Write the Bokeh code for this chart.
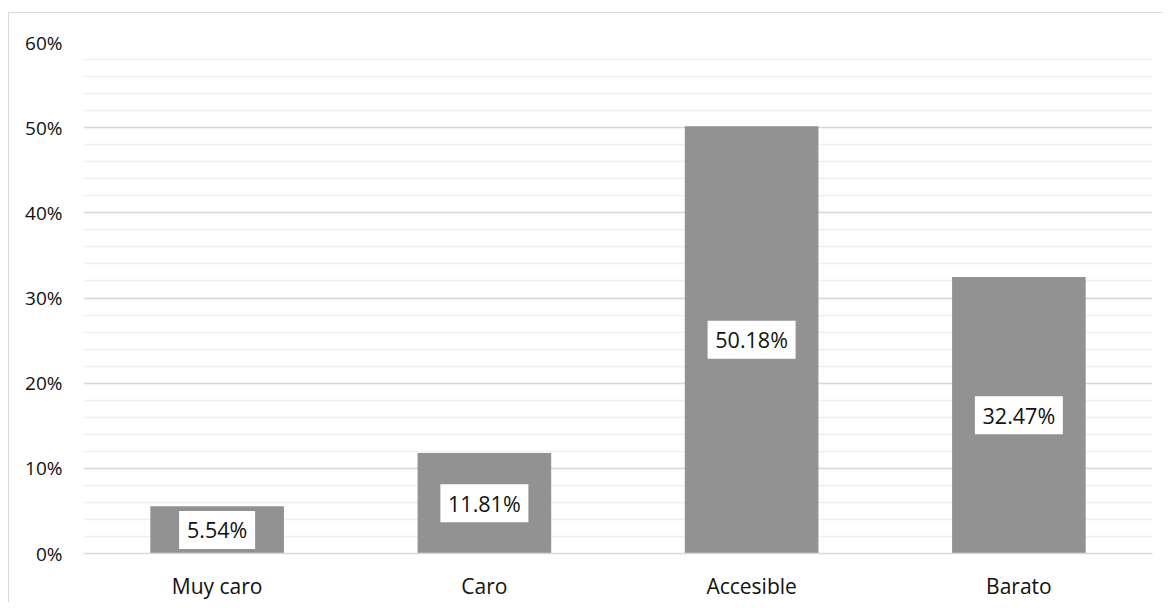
from bokeh.plotting import figure
from bokeh.models import ColumnDataSource, FactorRange, Range1d, SingleIntervalTicker, PrintfTickFormatter
from bokeh.core.properties import value
from bokeh.embed import file_html
from bokeh.resources import INLINE

categories = ["Muy caro", "Caro", "Accesible", "Barato"]
percentages = [5.54, 11.81, 50.18, 32.47]
label_texts = ["5.54%", "11.81%", "50.18%", "32.47%"]

src = ColumnDataSource(dict(
    cat=categories,
    val=percentages,
    mid=[v / 2 for v in percentages],
    lab=label_texts,
    boxw=[12 * len(t) + 16 for t in label_texts],
))

FONT = "Open Sans"

p = figure(
    x_range=FactorRange(factors=categories),
    y_range=Range1d(0, 60),
    width=1153, height=587,
    frame_width=1069, frame_height=511,
    min_border_left=74, min_border_top=29, min_border_right=10, min_border_bottom=47,
    output_backend="svg", toolbar_location=None,
    margin=(12, 0, 0, 8),
)
p.styles = {"border-left": "1px solid #d9d9d9", "border-top": "1px solid #d9d9d9"}
p.outline_line_color = None
p.background_fill_color = "white"
p.border_fill_color = "white"

p.vbar(x="cat", top="val", width=0.5, source=src, fill_color="#929292", line_color=None)

p.rect(x="cat", y="mid", width="boxw", height=38, width_units="screen", height_units="screen",
       source=src, fill_color="white", line_color=None)
p.text(x="cat", y="mid", text="lab", source=src,
       text_font=value(FONT), text_font_size="21.5px", text_color="#111111",
       text_align="center", text_baseline="middle")

ticker = SingleIntervalTicker(interval=10, num_minor_ticks=5)
p.yaxis.ticker = ticker
p.yaxis.formatter = PrintfTickFormatter(format="%d%%")
p.yaxis.axis_line_color = None
p.yaxis.major_tick_line_color = None
p.yaxis.minor_tick_line_color = None
p.yaxis.major_label_standoff = 15
p.yaxis.major_label_text_font = FONT
p.yaxis.major_label_text_font_size = "19px"
p.yaxis.major_label_text_color = "#111111"

p.xaxis.axis_line_color = "#d9d9d9"
p.xaxis.axis_line_width = 1.3
p.xaxis.major_tick_line_color = None
p.xaxis.minor_tick_line_color = None
p.xaxis.major_label_standoff = 12
p.xaxis.major_label_text_font = FONT
p.xaxis.major_label_text_font_size = "21px"
p.xaxis.major_label_text_color = "#111111"

p.xgrid.grid_line_color = None
p.ygrid.ticker = ticker
p.ygrid.grid_line_color = "#d9d9d9"
p.ygrid.grid_line_width = 1.3
p.ygrid.minor_grid_line_color = "#f0f0f0"
p.ygrid.minor_grid_line_width = 1.3
p.ygrid.level = "underlay"

open("out.html", "w").write(file_html(p, INLINE))
